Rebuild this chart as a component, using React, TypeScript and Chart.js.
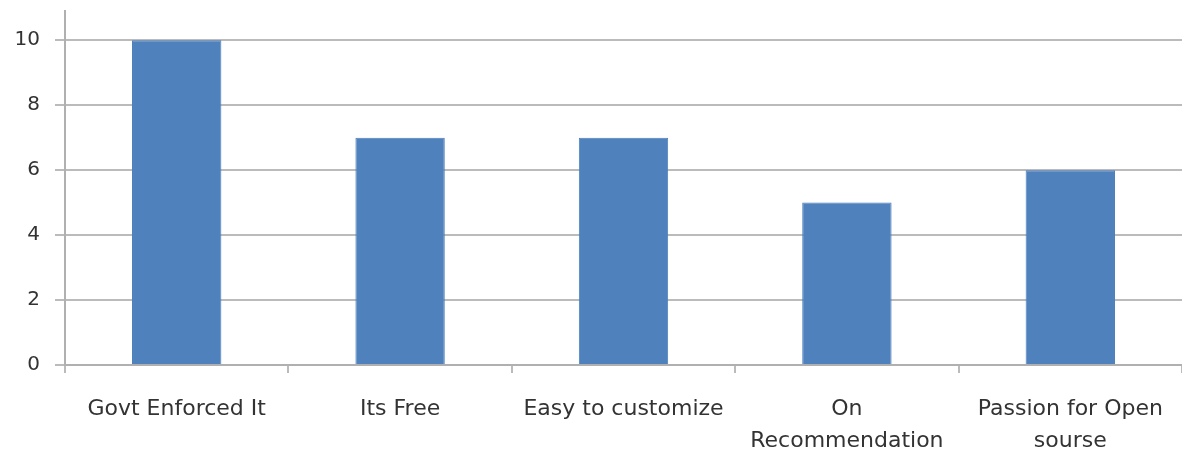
import React, { useEffect, useRef } from "react";
import { Chart, registerables } from "chart.js";

Chart.register(...registerables);

const categories: (string | string[])[] = [
  "Govt Enforced It",
  "Its Free",
  "Easy to customize",
  ["On", "Recommendation"],
  ["Passion for Open", "sourse"],
];
const values: number[] = [10, 7, 7, 5, 6];
const yTicks: number[] = [0, 2, 4, 6, 8, 10];

export default function App() {
  const ref = useRef<HTMLCanvasElement | null>(null);

  useEffect(() => {
    document.body.style.margin = "0";
    if (!ref.current) return;
    const chart = new Chart(ref.current, {
      type: "bar",
      data: {
        labels: categories,
        datasets: [
          {
            data: values,
            backgroundColor: "#4F81BD",
            borderColor: "#4A7DBA",
            borderWidth: 1,
            categoryPercentage: 0.4,
            barPercentage: 1,
          },
        ],
      },
      options: {
        animation: false,
        responsive: false,
        maintainAspectRatio: false,
        layout: { padding: { top: 11, right: 0, left: 0, bottom: 0 } },
        plugins: { legend: { display: false }, tooltip: { enabled: false } },
        scales: {
          x: {
            offset: true,
            grid: {
              offset: true,
              drawOnChartArea: false,
              drawTicks: true,
              tickLength: 8,
              color: "#BBBBBB",
              lineWidth: 2,
            },
            border: { color: "#B0B0B0", width: 2 },
            ticks: {
              color: "#333333",
              font: { family: "DejaVu Sans", size: 22, lineHeight: 1.45 },
              padding: 20,
              maxRotation: 0,
              autoSkip: false,
            },
            afterFit: (s: any) => {
              s.height = 87;
              s.paddingLeft = 0;
              s.paddingRight = 0;
            },
          },
          y: {
            min: 0,
            max: 10.9,
            grid: {
              color: "#BBBBBB",
              lineWidth: 2,
              tickLength: 10,
            },
            border: { color: "#B0B0B0", width: 2 },
            ticks: {
              color: "#333333",
              font: { family: "DejaVu Sans", size: 20 },
              padding: 15,
            },
            afterBuildTicks: (s: any) => {
              s.ticks = yTicks.map((v) => ({ value: v }));
            },
            afterFit: (s: any) => {
              s.width = 65;
              s.paddingTop = 0;
              s.paddingBottom = 0;
            },
          },
        },
      },
    });
    return () => chart.destroy();
  }, []);

  return (
    <div style={{ width: 1182, height: 452, background: "#fff" }}>
      <canvas ref={ref} width={1182} height={452} />
    </div>
  );
}
